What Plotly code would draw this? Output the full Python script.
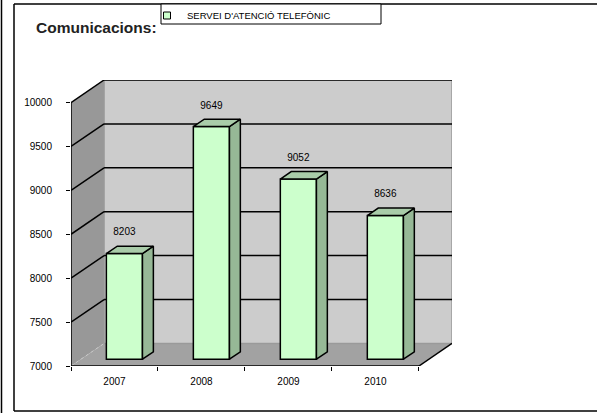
import plotly.graph_objects as go

# ---------------- data ----------------
years = ["2007", "2008", "2009", "2010"]
calls = [8203, 9649, 9052, 8636]
y_ticks = [7000, 7500, 8000, 8500, 9000, 9500, 10000]
series_name = "SERVEI D'ATENCIÓ TELEFÒNIC"
chart_title = "Comunicacions:"

# ---------------- layout constants ----------------
W, H = 597, 413
ML, MR, MT, MB = 71, 145, 80, 47
PW, PH = W - ML - MR, H - MT - MB

Y0, Y1 = y_ticks[0], y_ticks[-1]
DX = 0.38      # pseudo-3D depth in x units
DY = 257       # pseudo-3D depth in y units
BAR_W = 0.415
F0, F1 = 0.30, 0.63   # bar depth start / end fractions
LABEL_GAP = 150        # y units above the back top of a bar

n = len(years)
xs = list(range(n))
XR = [-0.5, n - 0.5 + DX]
YR = [Y0, Y1 + DY]

FONT_N = "Liberation Sans, Arial, sans-serif"

FRONT = "#CCFFCC"
SIDE = "#96B896"
TOP = "#A9CCA9"
BACK_WALL = "#CCCCCC"
SIDE_WALL = "#989898"
FLOOR = "#A2A2A2"


def px(xpix):
    return (xpix - ML) / PW


def py(ypix):
    return (H - MB - ypix) / PH


shapes = []
xl, xrr = -0.5, n - 0.5
# floor
shapes.append(dict(type="path", xref="x", yref="y", layer="below",
                   path=f"M {xl},{Y0} L {xrr},{Y0} L {xrr+DX},{Y0+DY} L {xl+DX},{Y0+DY} Z",
                   fillcolor=FLOOR, line=dict(width=0)))
# side wall
shapes.append(dict(type="path", xref="x", yref="y", layer="below",
                   path=f"M {xl},{Y0} L {xl+DX},{Y0+DY} L {xl+DX},{Y1+DY} L {xl},{Y1} Z",
                   fillcolor=SIDE_WALL, line=dict(width=0)))
# back wall
shapes.append(dict(type="rect", xref="x", yref="y", layer="below",
                   x0=xl + DX, x1=xrr + DX, y0=Y0 + DY, y1=Y1 + DY,
                   fillcolor=BACK_WALL, line=dict(color="#9a9a9a", width=1.5)))
# dashed edge between side wall and floor
shapes.append(dict(type="line", xref="x", yref="y", layer="below",
                   x0=xl, y0=Y0, x1=xl + DX, y1=Y0 + DY,
                   line=dict(color="#c8c8c8", width=1, dash="dot")))
# gridlines (side wall diagonal + back wall horizontal)
for v in y_ticks[1:]:
    shapes.append(dict(type="line", xref="x", yref="y", layer="below",
                       x0=xl, y0=v, x1=xl + DX, y1=v + DY,
                       line=dict(color="black", width=1.5)))
    shapes.append(dict(type="line", xref="x", yref="y", layer="below",
                       x0=xl + DX, y0=v + DY, x1=xrr + DX, y1=v + DY,
                       line=dict(color="black", width=1.5)))
# axis lines
shapes.append(dict(type="line", xref="x", yref="y", layer="below",
                   x0=xl, y0=Y0, x1=xl, y1=Y1, line=dict(color="black", width=1.5)))
shapes.append(dict(type="line", xref="x", yref="y", layer="below",
                   x0=xl, y0=Y0, x1=xrr, y1=Y0, line=dict(color="black", width=1.5)))
shapes.append(dict(type="line", xref="x", yref="y", layer="below",
                   x0=xrr, y0=Y0, x1=xrr + DX, y1=Y0 + DY, line=dict(color="black", width=1.5)))
# outer frame
shapes.append(dict(type="line", xref="paper", yref="paper",
                   x0=px(14), y0=py(4), x1=px(600), y1=py(4), line=dict(color="black", width=1.5)))
shapes.append(dict(type="line", xref="paper", yref="paper",
                   x0=px(14), y0=py(4), x1=px(14), y1=py(411), line=dict(color="black", width=1.5)))
shapes.append(dict(type="line", xref="paper", yref="paper",
                   x0=px(14), y0=py(411), x1=px(600), y1=py(411), line=dict(color="black", width=1.5)))
shapes.append(dict(type="line", xref="paper", yref="paper",
                   x0=px(1.5), y0=py(-2), x1=px(1.5), y1=py(415), line=dict(color="black", width=1.5)))
# legend box
shapes.append(dict(type="rect", xref="paper", yref="paper",
                   x0=px(161), x1=px(381), y0=py(4), y1=py(24),
                   fillcolor="white", line=dict(color="black", width=1)))

fig = go.Figure()

# front faces of the bars
fig.add_trace(go.Bar(
    x=[i + F0 * DX for i in xs],
    y=[v - Y0 for v in calls],
    base=Y0 + F0 * DY,
    width=BAR_W,
    marker=dict(color=FRONT, line=dict(color="black", width=1.5)),
    customdata=list(zip(years, calls)),
    hovertemplate="%{customdata[0]}: %{customdata[1]}<extra></extra>",
    showlegend=False,
))

# side and top faces computed from the values
sx, sy, tx, ty = [], [], [], []
dd, dy = (F1 - F0) * DX, (F1 - F0) * DY
for i, v in zip(xs, calls):
    xr = i + F0 * DX + BAR_W / 2
    xlb = xr - BAR_W
    b0 = Y0 + F0 * DY
    top = v + F0 * DY
    sx += [xr, xr + dd, xr + dd, xr, xr, None]
    sy += [b0, b0 + dy, top + dy, top, b0, None]
    tx += [xlb, xr, xr + dd, xlb + dd, xlb, None]
    ty += [top, top, top + dy, top + dy, top, None]

fig.add_trace(go.Scatter(x=sx, y=sy, mode="lines", fill="toself", fillcolor=SIDE,
                         line=dict(color="black", width=1.5), hoverinfo="skip", showlegend=False))
fig.add_trace(go.Scatter(x=tx, y=ty, mode="lines", fill="toself", fillcolor=TOP,
                         line=dict(color="black", width=1.5), hoverinfo="skip", showlegend=False))

# data labels
fig.add_trace(go.Scatter(
    x=[i + F0 * DX for i in xs],
    y=[v + F1 * DY + LABEL_GAP for v in calls],
    text=[str(v) for v in calls],
    mode="text", textposition="middle center",
    textfont=dict(family=FONT_N, size=10, color="black"),
    hoverinfo="skip", showlegend=False, cliponaxis=False, xaxis="x2",
))

# legend entry
fig.add_trace(go.Scatter(
    x=[None], y=[None], mode="markers", name=series_name,
    marker=dict(symbol="square", size=7, color=FRONT, line=dict(color="black", width=1)),
    showlegend=True,
))

fig.update_layout(
    width=W, height=H,
    margin=dict(l=ML, r=MR, t=MT, b=MB, pad=0, autoexpand=False),
    paper_bgcolor="white", plot_bgcolor="rgba(0,0,0,0)",
    shapes=shapes,
    title=dict(text=chart_title, x=36 / W, xref="container", xanchor="left",
               y=1 - 28 / H, yref="container", yanchor="middle",
               font=dict(family="Liberation Sans, Arial, sans-serif", size=15.5,
                         color="#222222", weight="bold")),
    xaxis=dict(range=XR, tickmode="array", tickvals=xs, ticktext=years, ticks="",
               showgrid=False, zeroline=False, showline=False, automargin=False,
               tickangle=0,
               tickfont=dict(family=FONT_N, size=10, color="black"), ticklabelstandoff=8),
    xaxis2=dict(range=XR, overlaying="x", side="bottom", anchor="y", tickmode="array",
                tickvals=[i - 0.5 for i in range(n + 1)], ticks="outside", ticklen=4,
                tickcolor="black", tickwidth=1.2, showticklabels=False, showgrid=False,
                zeroline=False, showline=False, automargin=False),
    yaxis=dict(range=YR, tickmode="array", tickvals=y_ticks, tickformat="d",
               ticks="outside", ticklen=4,
               tickcolor="black", tickwidth=1.2, showgrid=False, zeroline=False,
               showline=False, automargin=False, ticklabelstandoff=12,
               tickfont=dict(family=FONT_N, size=10, color="black")),
    showlegend=True,
    legend=dict(x=px(147), y=py(1), xanchor="left", yanchor="top",
                bgcolor="rgba(0,0,0,0)", borderwidth=0,
                font=dict(family=FONT_N, size=9.5, color="black")),
    hovermode="closest",
)

fig.write_html("out.html", config={"displayModeBar": False},
               post_script="document.body.style.margin='0';")
